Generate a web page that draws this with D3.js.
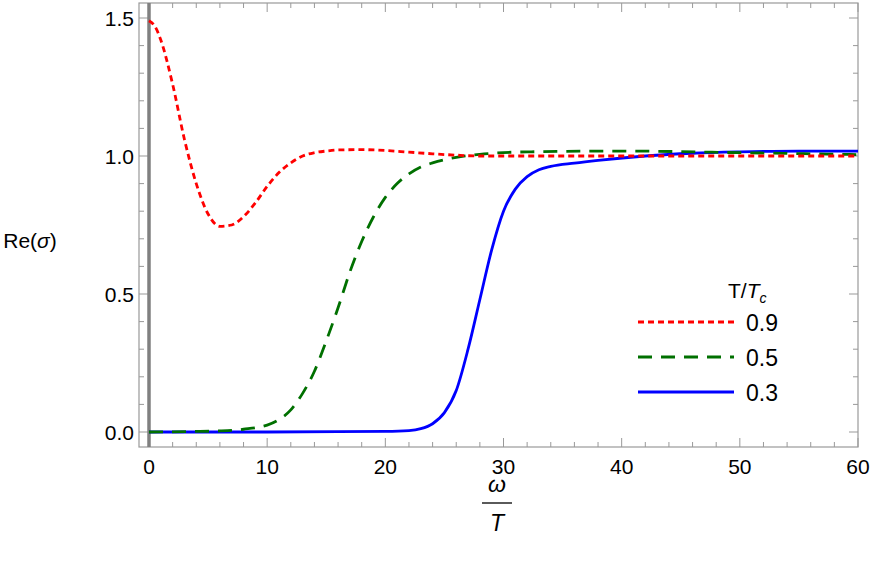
<!DOCTYPE html>
<html><head><meta charset="utf-8">
<script src="https://cdn.jsdelivr.net/npm/d3@7"></script>
<style>body{margin:0;background:#fff}text{font-family:Arial,"Liberation Sans",sans-serif}</style>
</head><body><svg id="c" width="872" height="579"></svg>
<script>
const redX = [0,0.5,1,2,3,4,5,6,7,8,9,10,11,12,13,14,15,16,18,20,22,24,26,28,30,40,50,60];
const redY = [1.49,1.47,1.42,1.26,1.06,0.9,0.79,0.745,0.75,0.78,0.83,0.89,0.94,0.975,1.0,1.012,1.018,1.022,1.023,1.02,1.014,1.008,1.003,1.0,1.0,1.0,1.0,1.0];
const greenX = [0,4,6,8,10,11,12,13,14,15,16,17,18,19,20,21,22,23,24,26,28,32,40,50,60];
const greenY = [0,0.002,0.004,0.01,0.025,0.045,0.08,0.14,0.22,0.33,0.45,0.58,0.69,0.78,0.85,0.9,0.935,0.96,0.975,0.995,1.006,1.015,1.018,1.012,1.005];
const blueX = [0,10,16,20,22,23,24,25,26,27,28,29,30,31,32,33,34,36,38,42,46,50,55,60];
const blueY = [0,0,0.001,0.002,0.005,0.012,0.03,0.07,0.15,0.3,0.48,0.66,0.8,0.88,0.925,0.95,0.962,0.974,0.984,1.0,1.01,1.015,1.018,1.018];
const legendLabels = ['0.9','0.5','0.3'];

const svg = d3.select('#c');
const L=139,R=858,T=3,B=447;
const x = d3.scaleLinear().domain([0,60]).range([149,R]);
const y = d3.scaleLinear().domain([0,1.5]).range([432,18]);

svg.append('rect').attr('x',L).attr('y',T).attr('width',R-L).attr('height',B-T)
  .attr('fill','none').attr('stroke','#999').attr('stroke-width',1.2);

const ax='#999';
d3.range(0,61,2).forEach(v=>{
  const major=v%10===0, len=major?9:5, px=x(v);
  svg.append('line').attr('x1',px).attr('x2',px).attr('y1',B).attr('y2',B-len).attr('stroke',ax);
  svg.append('line').attr('x1',px).attr('x2',px).attr('y1',T).attr('y2',T+len).attr('stroke',ax);
  if(major) svg.append('text').attr('x',px).attr('y',B+27).attr('text-anchor','middle').attr('font-size',21).text(v);
});
d3.range(0,1.51,0.1).forEach(v=>{
  const major=Math.abs(v*2-Math.round(v*2))<1e-6, len=major?9:5, py=y(v);
  svg.append('line').attr('x1',L).attr('x2',L+len).attr('y1',py).attr('y2',py).attr('stroke',ax);
  svg.append('line').attr('x1',R).attr('x2',R-len).attr('y1',py).attr('y2',py).attr('stroke',ax);
  if(major) svg.append('text').attr('x',L-5).attr('y',py+8).attr('text-anchor','end').attr('font-size',21).text(v.toFixed(1));
});
svg.append('line').attr('x1',x(0)).attr('x2',x(0)).attr('y1',T).attr('y2',B).attr('stroke','#808080').attr('stroke-width',3.5);

const line = d3.line().x(d=>x(d[0])).y(d=>y(d[1])).curve(d3.curveMonotoneX);
const series=[
  {xs:blueX,ys:blueY,c:'#0000ff',dash:null},
  {xs:greenX,ys:greenY,c:'#007000',dash:'14,9'},
  {xs:redX,ys:redY,c:'#ff0000',dash:'6,4'}
];
series.forEach(s=>{
  svg.append('path').attr('d',line(d3.zip(s.xs,s.ys))).attr('fill','none')
    .attr('stroke',s.c).attr('stroke-width',2.8).attr('stroke-dasharray',s.dash);
});

svg.append('text').attr('x',728).attr('y',298).attr('font-size',21).html('T/<tspan font-style="italic">T</tspan><tspan font-size="14" font-style="italic" dy="5">c</tspan>');
const leg=[series[2],series[1],series[0]];
leg.forEach((s,i)=>{
  const py=322+i*35;
  svg.append('line').attr('x1',638).attr('x2',734).attr('y1',py).attr('y2',py)
    .attr('stroke',s.c).attr('stroke-width',2.8).attr('stroke-dasharray',s.dash);
  svg.append('text').attr('x',746).attr('y',py+9).attr('font-size',23).text(legendLabels[i]);
});

svg.append('text').attr('x',30).attr('y',248).attr('text-anchor','middle').attr('font-size',21).html('Re(<tspan font-style="italic">σ</tspan>)');
svg.append('text').attr('x',497).attr('y',492).attr('text-anchor','middle').attr('font-size',23).attr('font-style','italic').text('ω');
svg.append('line').attr('x1',482).attr('x2',512).attr('y1',503).attr('y2',503).attr('stroke','#000').attr('stroke-width',1.3);
svg.append('text').attr('x',497).attr('y',531).attr('text-anchor','middle').attr('font-size',23).attr('font-style','italic').text('T');
</script></body></html>
